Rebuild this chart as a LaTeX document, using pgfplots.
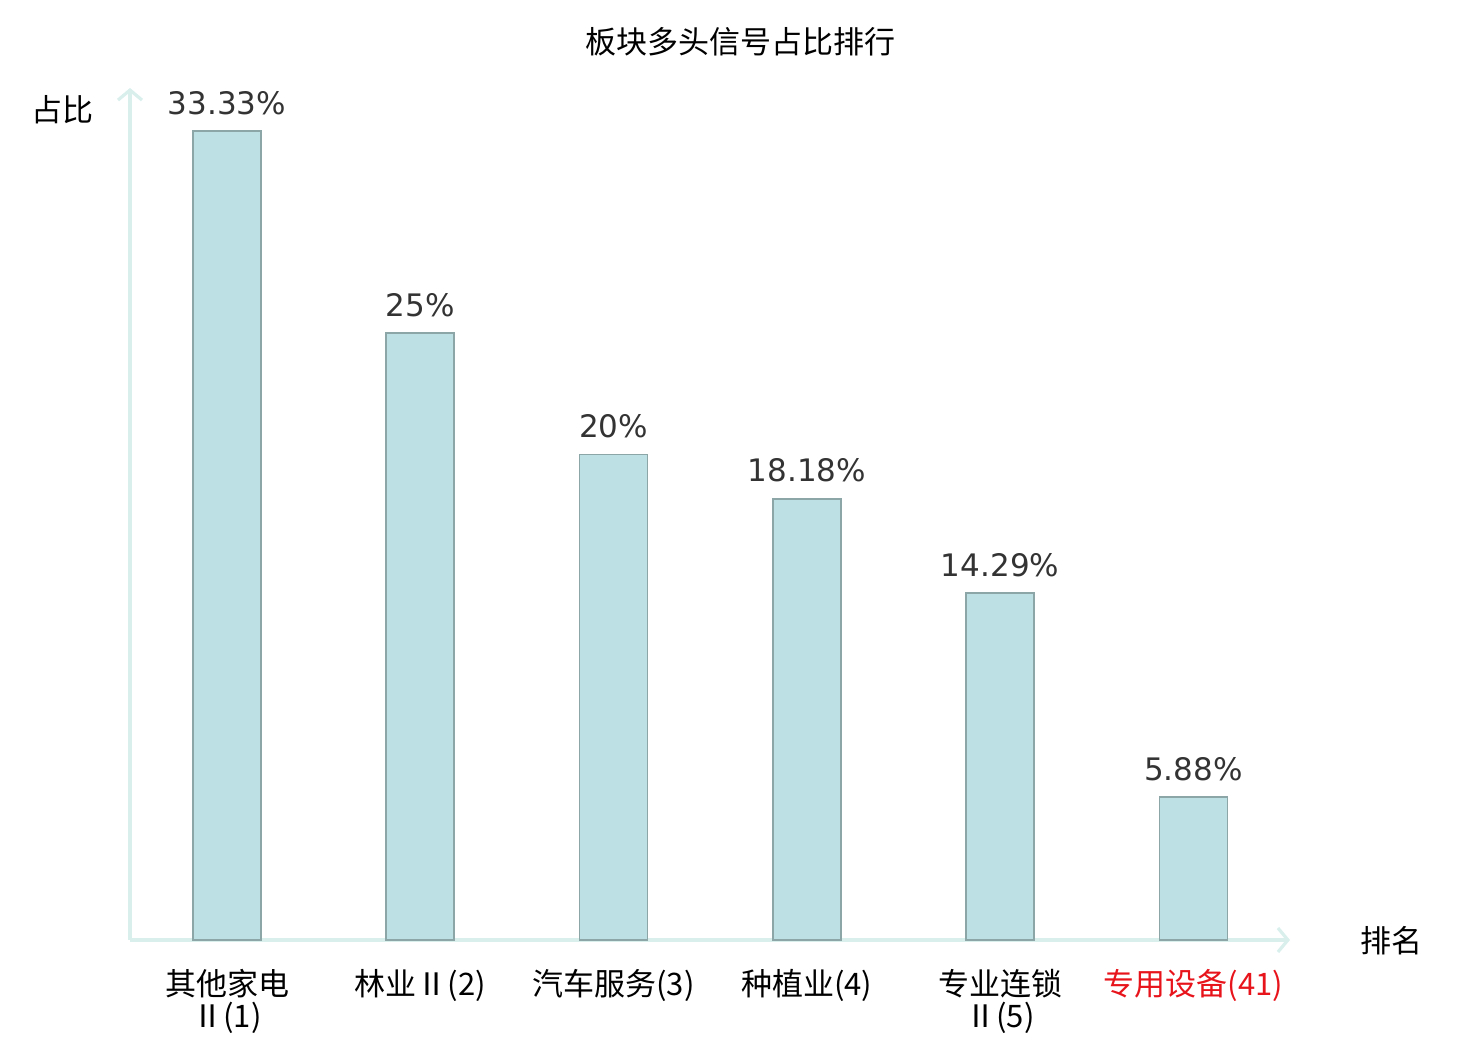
\documentclass[border=0pt]{standalone}
\usepackage{fontspec}
\setmainfont{Noto Sans CJK SC}
\newfontfamily\dejavu{DejaVu Sans}
\usepackage{pgfplots}
\pgfplotsset{compat=1.18}
\usetikzlibrary{arrows.meta}
\definecolor{barfill}{HTML}{BCE0E3}
\definecolor{bardraw}{HTML}{8CA6A8}
\definecolor{axcol}{HTML}{D8EFEC}
\definecolor{lbl}{HTML}{333333}
\definecolor{redlbl}{HTML}{E8141C}
\begin{document}
\begin{tikzpicture}
\useasboundingbox (0,0) rectangle (740pt,520pt);
\node[font=\fontsize{15.5}{18}\selectfont] at (370pt,{520pt-42*0.5pt}) {板块多头信号占比排行};
\node[font=\fontsize{15.5}{18}\selectfont] at (63*0.5pt,{520pt-110*0.5pt}) {占比};
\node[font=\fontsize{15.5}{18}\selectfont] at (1391*0.5pt,{520pt-941*0.5pt}) {排名};
\begin{axis}[
  at={(65pt,50pt)}, anchor=south west,
  scale only axis, width=580pt, height=426pt,
  xmin=-0.502, xmax=5.5, ymin=0, ymax=35.1,
  axis lines=left,
  axis line style={draw=axcol, line width=1.6pt, -{Straight Barb[length=5pt,width=12pt,line width=1.6pt]}},
  ytick=\empty,
  xtick={0,1,2,3,4,5},
  major tick length=0pt,
  xticklabels={{其他家电\\Ⅱ(1)},{林业Ⅱ(2)},{汽车服务(3)},{种植业(4)},{专业连锁\\Ⅱ(5)},{\color{redlbl}专用设备(41)}},
  xticklabel style={align=center, font=\fontsize{15.5}{16}\selectfont, anchor=north, yshift=-11pt},
  ybar, bar width=34pt,
  point meta=explicit symbolic,
  nodes near coords={\pgfplotspointmeta},
  nodes near coords style={font=\dejavu\fontsize{15.5}{18}\selectfont, text=lbl, anchor=south, yshift=4.5pt},
  clip=false,
]
\addplot[fill=barfill, draw=bardraw, line width=0.8pt] coordinates {
 (0,33.33) [33.33\%]
 (1,25) [25\%]
 (2,20) [20\%]
 (3,18.18) [18.18\%]
 (4,14.29) [14.29\%]
 (5,5.88) [5.88\%]
};
\end{axis}
\end{tikzpicture}
\end{document}
